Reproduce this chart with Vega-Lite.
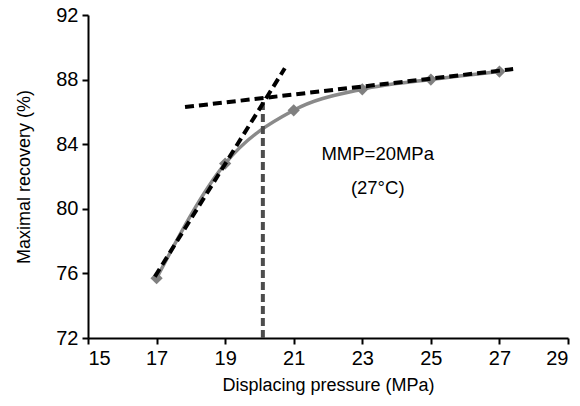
{
  "$schema": "https://vega.github.io/schema/vega-lite/v6.json",
  "width": 480,
  "height": 323,
  "autosize": {"type": "none"},
  "padding": {"left": 88, "top": 15, "right": 12, "bottom": 68},
  "background": "white",
  "config": {
    "view": {"stroke": null},
    "font": "Liberation Sans",
    "axis": {
      "grid": false,
      "domainColor": "black",
      "domainWidth": 2,
      "tickColor": "black",
      "tickWidth": 2,
      "tickSize": 6,
      "labelColor": "black",
      "labelFontSize": 20,
      "labelFont": "Liberation Sans",
      "titleFont": "Liberation Sans",
      "titleFontSize": 18,
      "titleFontWeight": "normal",
      "titleColor": "black"
    }
  },
  "datasets": {
    "points": [
      {"pressure": 17, "recovery": 75.7},
      {"pressure": 19, "recovery": 82.8},
      {"pressure": 21, "recovery": 86.1},
      {"pressure": 23, "recovery": 87.4},
      {"pressure": 25, "recovery": 88.0},
      {"pressure": 27, "recovery": 88.5}
    ],
    "guides": [
      {"line": "steep", "pressure": 16.95, "recovery": 75.8},
      {"line": "steep", "pressure": 20.74, "recovery": 88.7},
      {"line": "flat", "pressure": 17.83, "recovery": 86.3},
      {"line": "flat", "pressure": 27.4, "recovery": 88.65}
    ],
    "vertical": [
      {"pressure": 20.1, "recovery": 72},
      {"pressure": 20.1, "recovery": 86.9}
    ],
    "labels": [
      {"pressure": 23.45, "recovery": 83.4, "text": "MMP=20MPa"},
      {"pressure": 23.45, "recovery": 81.3, "text": "(27°C)"}
    ]
  },
  "layer": [
    {
      "data": {"name": "points"},
      "mark": {"type": "line", "interpolate": "monotone", "color": "#8a8a8a", "strokeWidth": 3.5},
      "encoding": {
        "x": {
          "field": "pressure", "type": "quantitative",
          "scale": {"domain": [15, 29], "nice": false, "zero": false},
          "axis": {"values": [15, 17, 19, 21, 23, 25, 27, 29], "title": "Displacing pressure (MPa)", "labelPadding": 4, "titlePadding": 8}
        },
        "y": {
          "field": "recovery", "type": "quantitative",
          "scale": {"domain": [72, 92], "nice": false, "zero": false},
          "axis": {"values": [72, 76, 80, 84, 88, 92], "title": "Maximal recovery (%)", "labelPadding": 4, "titlePadding": 22}
        }
      }
    },
    {
      "data": {"name": "vertical"},
      "mark": {"type": "line", "color": "#4d4d4d", "strokeWidth": 4, "strokeDash": [8, 4]},
      "encoding": {
        "x": {"field": "pressure", "type": "quantitative"},
        "y": {"field": "recovery", "type": "quantitative"}
      }
    },
    {
      "data": {"name": "points"},
      "mark": {"type": "point", "shape": "diamond", "filled": true, "color": "#808080", "size": 150, "opacity": 1},
      "encoding": {
        "x": {"field": "pressure", "type": "quantitative"},
        "y": {"field": "recovery", "type": "quantitative"}
      }
    },
    {
      "data": {"name": "guides"},
      "mark": {"type": "line", "color": "black", "strokeWidth": 4, "strokeDash": [9, 5]},
      "encoding": {
        "x": {"field": "pressure", "type": "quantitative"},
        "y": {"field": "recovery", "type": "quantitative"},
        "detail": {"field": "line", "type": "nominal"}
      }
    },
    {
      "data": {"name": "labels"},
      "mark": {"type": "text", "fontSize": 18.5, "color": "black", "font": "Liberation Sans"},
      "encoding": {
        "x": {"field": "pressure", "type": "quantitative"},
        "y": {"field": "recovery", "type": "quantitative"},
        "text": {"field": "text", "type": "nominal"}
      }
    }
  ]
}
